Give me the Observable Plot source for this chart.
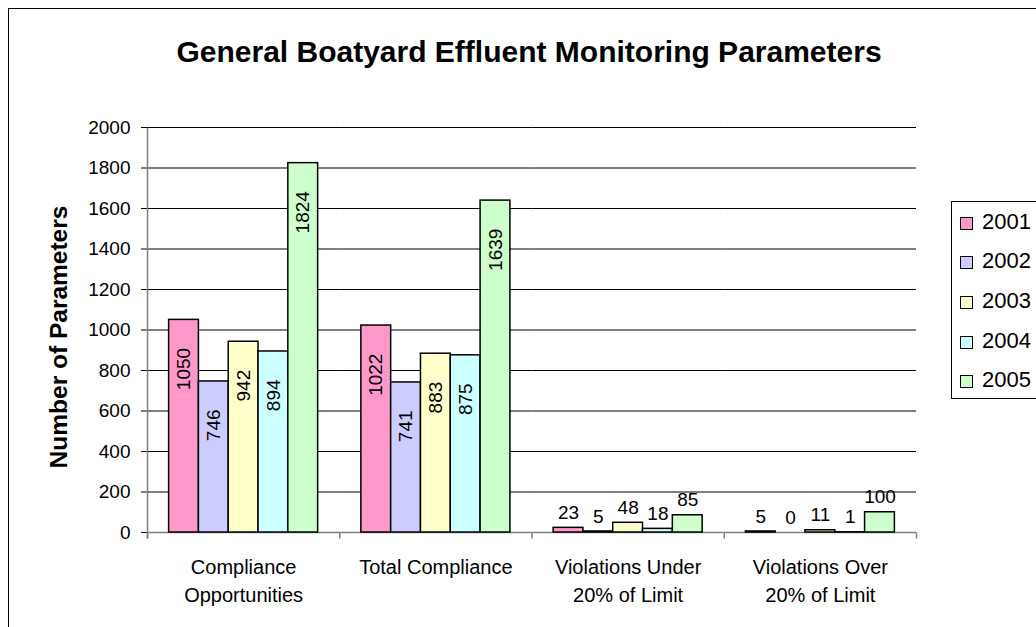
<!DOCTYPE html>
<html><head><meta charset="utf-8">
<script src="https://cdn.jsdelivr.net/npm/d3@7"></script>
<script src="https://cdn.jsdelivr.net/npm/@observablehq/plot@0.6"></script>
<style>
html,body{margin:0;padding:0;background:#fff;}
#wrap{position:relative;width:1036px;height:627px;overflow:hidden;font-family:"Liberation Sans",Arial,sans-serif;color:#000;}
#border{position:absolute;left:8px;top:8px;width:1100px;height:700px;border:1.5px solid #000;}
#chart{position:absolute;left:0;top:0;}
#title{position:absolute;left:0;top:37px;width:1058px;text-align:center;font-weight:bold;font-size:30px;line-height:30px;white-space:nowrap;}
#legend{position:absolute;left:951px;top:201px;width:150px;height:196px;border:1px solid #000;background:#fff;}
.sw{position:absolute;box-sizing:border-box;width:13px;height:13px;border:1.5px solid #000;}
.lt{position:absolute;font-size:22px;line-height:22px;white-space:nowrap;}
</style></head><body>
<div id="wrap"><div id="border"></div><div id="chart"></div><div id="title">General Boatyard Effluent Monitoring Parameters</div><div id="legend"></div></div>
<script>
const categories = ["Compliance\nOpportunities", "Total Compliance", "Violations Under\n20% of Limit", "Violations Over\n20% of Limit"];
const years = ["2001", "2002", "2003", "2004", "2005"];
const colors = ["#FF99CC", "#CCCCFF", "#FFFFCC", "#CCFFFF", "#CCFFCC"];
const v2001 = [1050, 1022, 23, 5];
const v2002 = [746, 741, 5, 0];
const v2003 = [942, 883, 48, 11];
const v2004 = [894, 875, 18, 1];
const v2005 = [1824, 1639, 85, 100];
const yTicks = [0, 200, 400, 600, 800, 1000, 1200, 1400, 1600, 1800, 2000];
const yTitle = "Number of Parameters";

const series = [v2001, v2002, v2003, v2004, v2005];
const rows = categories.flatMap((c, i) => years.map((y, j) => ({category: c, year: y, value: series[j][i]})));
const big = rows.filter(d => d.value >= 500);
const small = rows.filter(d => d.value < 500);

const W = 1036, H = 627, ML = 147, MR = 120, MT = 127, MB = 95;
const plotH = H - MT - MB;
const tickSym = {draw(ctx) { ctx.moveTo(0, 0); ctx.lineTo(0, 6); }};
const axisSym = {draw(ctx) { ctx.moveTo(0, 6); ctx.lineTo(0, -plotH); }};

const chart = Plot.plot({
  width: W, height: H,
  marginLeft: ML, marginRight: MR, marginTop: MT, marginBottom: MB,
  style: {fontFamily: "'Liberation Sans', Arial, sans-serif", fontSize: "19px", background: "transparent", color: "#000", overflow: "visible"},
  fx: {domain: categories, padding: 0, round: false, axis: null},
  x: {domain: years, paddingInner: 0, paddingOuter: 0.725, round: false, axis: null},
  y: {domain: [0, 2000], ticks: yTicks, tickFormat: d => String(d), tickSize: 6, tickPadding: 11, label: null},
  color: {domain: years, range: colors},
  marks: [
    Plot.ruleY(yTicks.filter(t => t > 0), {stroke: "#000", strokeWidth: 1}),
    Plot.ruleY([0], {stroke: "#808080", strokeWidth: 1.5}),
    Plot.dot(categories, {fx: d => d, frameAnchor: "bottom-left", symbol: tickSym, r: 3, stroke: "#808080", strokeWidth: 1.5, fill: "none"}),
    Plot.dot([categories[categories.length - 1]], {fx: d => d, frameAnchor: "bottom-right", symbol: tickSym, r: 3, stroke: "#808080", strokeWidth: 1.5, fill: "none"}),
    Plot.dot([categories[0]], {fx: d => d, frameAnchor: "bottom-left", symbol: axisSym, r: 3, stroke: "#808080", strokeWidth: 1.5, fill: "none"}),
    Plot.barY(rows, {fx: "category", x: "year", y: "value", fill: "year", stroke: "#000", strokeWidth: 1.5, insetLeft: 0, insetRight: 0}),
    Plot.text(big, {fx: "category", x: "year", y: "value", text: d => String(d.value), rotate: -90, textAnchor: "end", lineAnchor: "middle", dy: 28, fontSize: 19, fill: "#000"}),
    Plot.text(small, {fx: "category", x: "year", y: "value", text: d => String(d.value), lineAnchor: "middle", dy: -15, fontSize: 19, fill: "#000"}),
    Plot.text(categories, {fx: d => d, text: d => d, frameAnchor: "bottom", textAnchor: "middle", lineAnchor: "top", dy: 21, fontSize: 20, lineHeight: 1.42, fill: "#000"}),
    Plot.text([categories[0]], {fx: d => d, text: () => yTitle, frameAnchor: "left", rotate: -90, textAnchor: "middle", lineAnchor: "middle", dx: -88, dy: 7, fontSize: 24.5, fontWeight: "bold", fill: "#000"})
  ]
});
document.getElementById("chart").appendChild(chart);

const legend = d3.select("#legend");
years.forEach((y, i) => {
  const cy = 22 + i * 39.7;
  legend.append("div").attr("class", "sw").style("left", "8px").style("top", (cy - 7.5) + "px").style("background", colors[i]);
  legend.append("div").attr("class", "lt").style("left", "30px").style("top", (cy - 13.5) + "px").text(y);
});
</script>
</body></html>
